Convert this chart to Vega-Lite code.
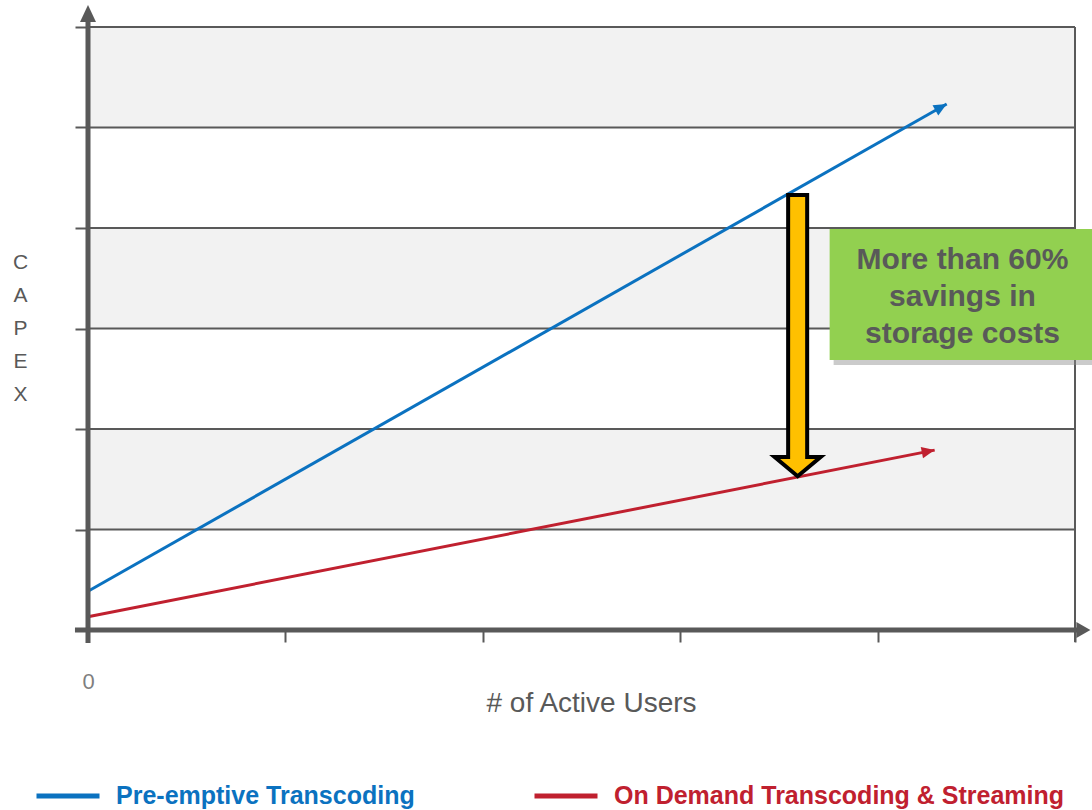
{
  "$schema": "https://vega.github.io/schema/vega-lite/v6.json",
  "width": 987,
  "height": 603,
  "autosize": "none",
  "padding": {"left": 88, "top": 27, "right": 17, "bottom": 180},
  "background": "white",
  "config": {
    "view": {"stroke": null},
    "font": "Liberation Sans"
  },
  "datasets": {
    "bands": [{"y0": 5, "y1": 6}, {"y0": 3, "y1": 4}, {"y0": 1, "y1": 2}],
    "grid": [{"v": 1}, {"v": 2}, {"v": 3}, {"v": 4}, {"v": 5}, {"v": 6}],
    "series": [
      {"series": "Pre-emptive Transcoding", "x": 0, "y": 0.385},
      {"series": "Pre-emptive Transcoding", "x": 4.35, "y": 5.234},
      {"series": "On Demand Transcoding & Streaming", "x": 0, "y": 0.132},
      {"series": "On Demand Transcoding & Streaming", "x": 4.289, "y": 1.79}
    ],
    "note": [{"label": ["More than 60%", "savings in", "storage costs"], "x": 4.43, "y": 3.313, "x0": 3.757, "x1": 5.09, "y0": 2.687, "y1": 3.99}],
    "gap": [{"x": 3.595, "y": 4.328}]
  },
  "layer": [
    {
      "data": {"name": "bands"},
      "mark": {"type": "rect", "fill": "#F2F2F2"},
      "encoding": {
        "x": {"datum": 0, "type": "quantitative", "scale": {"domain": [0, 5], "nice": false, "zero": false},
          "axis": {"values": [0, 1, 2, 3, 4, 5], "grid": false, "domain": false, "tickSize": 12, "tickWidth": 2, "tickColor": "#595959",
            "labelExpr": "datum.value == 0 ? '0' : ''", "labelFlush": false, "labelFontSize": 22, "labelColor": "#7F7F7F", "labelPadding": 29,
            "title": "# of Active Users", "titleFontSize": 28, "titleFontWeight": "normal", "titleColor": "#595959",
            "titleX": 503, "titleY": 73, "titleAlign": "center", "titleBaseline": "middle"}},
        "x2": {"datum": 5},
        "y": {"field": "y0", "type": "quantitative", "scale": {"domain": [0, 6], "nice": false, "zero": false},
          "axis": {"values": [0, 1, 2, 3, 4, 5, 6], "grid": false, "domain": false, "labels": false, "tickSize": 13, "tickWidth": 2, "tickColor": "#595959",
            "title": ["C", "A", "P", "E", "X"], "titleAngle": 0, "titleX": -68, "titleY": 235, "titleAlign": "center", "titleBaseline": "middle",
            "titleLineHeight": 33, "titleFontSize": 21, "titleFontWeight": "normal", "titleColor": "#595959"}},
        "y2": {"field": "y1"}
      }
    },
    {
      "data": {"name": "grid"},
      "mark": {"type": "rule", "stroke": "#595959", "strokeWidth": 2},
      "encoding": {
        "x": {"datum": 0, "type": "quantitative"},
        "x2": {"datum": 5},
        "y": {"field": "v", "type": "quantitative"}
      }
    },
    {
      "data": {"values": [{}]},
      "mark": {"type": "rule", "stroke": "#595959", "strokeWidth": 2},
      "encoding": {
        "x": {"datum": 5, "type": "quantitative"},
        "y": {"datum": -0.12, "type": "quantitative"},
        "y2": {"datum": 6}
      }
    },
    {
      "data": {"name": "series"},
      "mark": {"type": "line", "strokeWidth": 3},
      "encoding": {
        "x": {"field": "x", "type": "quantitative"},
        "y": {"field": "y", "type": "quantitative"},
        "color": {"field": "series", "type": "nominal",
          "scale": {"domain": ["Pre-emptive Transcoding", "On Demand Transcoding & Streaming"], "range": ["#0B72C0", "#C0202F"]},
          "legend": {"orient": "none", "legendX": -54, "legendY": 735, "direction": "horizontal", "title": null,
            "symbolType": "stroke", "symbolSize": 3969, "symbolStrokeWidth": 5, "labelFontSize": 25, "labelFontWeight": "bold",
            "labelOffset": 14, "columnPadding": 109, "padding": 0, "labelLimit": 600,
            "labelColor": {"expr": "datum.value == 'Pre-emptive Transcoding' ? '#0B72C0' : '#C0202F'"}}}
      }
    },
    {
      "data": {"name": "series"},
      "transform": [{"filter": "datum.series == 'Pre-emptive Transcoding' && datum.x > 0"}],
      "mark": {"type": "point", "shape": "M0,0L-1,-0.45L-1,0.45Z", "filled": true, "fill": "#0B72C0", "strokeWidth": 0, "size": 676, "angle": 330.4, "opacity": 1},
      "encoding": {
        "x": {"field": "x", "type": "quantitative"},
        "y": {"field": "y", "type": "quantitative"}
      }
    },
    {
      "data": {"name": "series"},
      "transform": [{"filter": "datum.series == 'On Demand Transcoding & Streaming' && datum.x > 0"}],
      "mark": {"type": "point", "shape": "M0,0L-1,-0.45L-1,0.45Z", "filled": true, "fill": "#C0202F", "strokeWidth": 0, "size": 676, "angle": 348.85, "opacity": 1},
      "encoding": {
        "x": {"field": "x", "type": "quantitative"},
        "y": {"field": "y", "type": "quantitative"}
      }
    },
    {
      "data": {"name": "note"},
      "mark": {"type": "rect", "fill": "#8C8C8C", "opacity": 0.45, "xOffset": 4, "yOffset": 5},
      "encoding": {
        "x": {"field": "x0", "type": "quantitative"},
        "x2": {"field": "x1"},
        "y": {"field": "y0", "type": "quantitative"},
        "y2": {"field": "y1"}
      }
    },
    {
      "data": {"name": "note"},
      "mark": {"type": "rect", "fill": "#92D050"},
      "encoding": {
        "x": {"field": "x0", "type": "quantitative"},
        "x2": {"field": "x1"},
        "y": {"field": "y0", "type": "quantitative"},
        "y2": {"field": "y1"}
      }
    },
    {
      "data": {"name": "note"},
      "mark": {"type": "text", "fontSize": 30, "fontWeight": "bold", "color": "#595959", "lineHeight": 37, "align": "center", "baseline": "middle", "dy": -37},
      "encoding": {
        "x": {"field": "x", "type": "quantitative"},
        "y": {"field": "y", "type": "quantitative"},
        "text": {"field": "label"}
      }
    },
    {
      "data": {"name": "gap"},
      "mark": {"type": "point", "shape": "M-0.067,0L0.067,0L0.067,1.845L0.162,1.845L0,1.98L-0.162,1.845L-0.067,1.845Z",
        "filled": true, "fill": "#FFC000", "stroke": "#000000", "strokeWidth": 4, "size": 80656, "opacity": 1, "strokeJoin": "miter"},
      "encoding": {
        "x": {"field": "x", "type": "quantitative"},
        "y": {"field": "y", "type": "quantitative"}
      }
    },
    {
      "data": {"values": [{}]},
      "mark": {"type": "rule", "stroke": "#595959", "strokeWidth": 5},
      "encoding": {
        "x": {"datum": 0, "type": "quantitative"},
        "y": {"datum": -0.13, "type": "quantitative"},
        "y2": {"datum": 6.08}
      }
    },
    {
      "data": {"values": [{}]},
      "mark": {"type": "rule", "stroke": "#595959", "strokeWidth": 5},
      "encoding": {
        "y": {"datum": 0, "type": "quantitative"},
        "x": {"datum": -0.066, "type": "quantitative"},
        "x2": {"datum": 5.02}
      }
    },
    {
      "data": {"values": [{}]},
      "mark": {"type": "point", "shape": "M0,0L-0.47,1L0.47,1Z", "filled": true, "fill": "#595959", "strokeWidth": 0, "size": 1156, "opacity": 1},
      "encoding": {
        "x": {"datum": 0, "type": "quantitative"},
        "y": {"datum": 6.22, "type": "quantitative"}
      }
    },
    {
      "data": {"values": [{}]},
      "mark": {"type": "point", "shape": "M0,0L-1,-0.57L-1,0.57Z", "filled": true, "fill": "#595959", "strokeWidth": 0, "size": 784, "opacity": 1},
      "encoding": {
        "x": {"datum": 5.078, "type": "quantitative"},
        "y": {"datum": 0, "type": "quantitative"}
      }
    }
  ]
}
